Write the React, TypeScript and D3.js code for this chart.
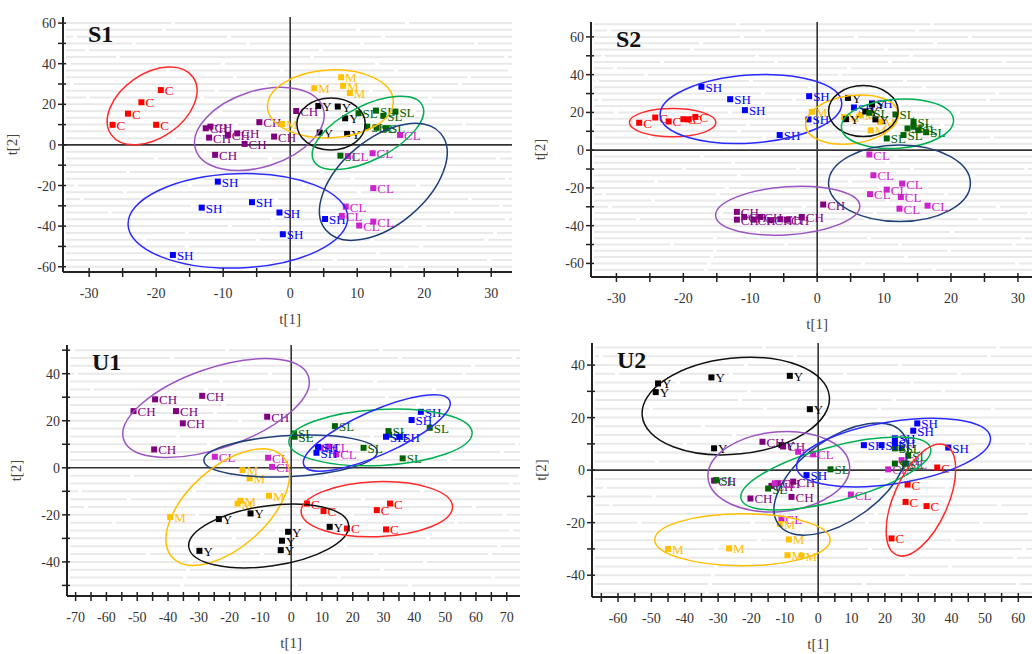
import React from "react";
import * as d3 from "d3";

type Pt = [number, number];
type Ell = { g: string; cx: number; cy: number; a: number; b: number; angle: number };

// Group colours: marker fill and confidence-ellipse stroke
const pointColor: Record<string, string> = {
  C: "#ff0000",
  SH: "#0000ff",
  CH: "#800080",
  CL: "#cc22cc",
  M: "#ffc000",
  Y: "#000000",
  SL: "#006400",
};
const ellipseColor: Record<string, string> = {
  C: "#ff2a2a",
  SH: "#2a2aff",
  CH: "#9b55c0",
  CL: "#1f3f78",
  M: "#ffbf00",
  Y: "#111111",
  SL: "#00b050",
};

// ---- S1 scores ----
const s1C: Pt[] = [[-26.5, 9.9], [-24.2, 15.4], [-22.2, 21], [-19.3, 27], [-20, 9.9]];
const s1CH: Pt[] = [[-12.6, 8.2], [-11.9, 9], [-12.1, 3.6], [-11.2, -4.9], [-9.3, 4.9], [-7.9, 5.7], [-6.8, 0.5], [-4.6, 11.2], [-2.4, 4.1], [0.9, 16.7]];
const s1SH: Pt[] = [[-10.8, -18.1], [-13.2, -30.9], [-17.5, -54.2], [-5.7, -28.2], [-1.6, -33.3], [-1.1, -44], [5.2, -36.5]];
const s1M: Pt[] = [[3.6, 27.9], [7.6, 33.3], [7.9, 29.1], [8.9, 25.6], [-1.2, 10.3]];
const s1Y: Pt[] = [[4.2, 19.2], [7.1, 18.9], [8.2, 13.1], [4.4, 6.1], [8.5, 5.4]];
const s1SL: Pt[] = [[10.2, 15.6], [12.8, 16.9], [13.9, 14.3], [15.7, 16.4], [11.5, 9], [12.9, 8.5], [14.3, 8.2], [7.5, -5.3]];
const s1CL: Pt[] = [[16.4, 4.9], [12.3, -4.1], [12.4, -21.3], [8.3, -30.4], [7.7, -35], [10.3, -39.7], [12.4, -37.8], [8.6, -5.5]];
const s1Ellipses: Ell[] = [
  { g: "C", cx: -20.6, cy: 19.2, a: 7.46, b: 15.8, angle: -35 },
  { g: "CH", cx: -4.6, cy: 7.9, a: 10, b: 18.7, angle: -18 },
  { g: "SH", cx: -7.8, cy: -37.4, a: 16.4, b: 23.2, angle: -2 },
  { g: "M", cx: 6.0, cy: 20.2, a: 9.4, b: 16.7, angle: -3 },
  { g: "Y", cx: 6.1, cy: 10.3, a: 5.1, b: 12.8, angle: 0 },
  { g: "SL", cx: 11.6, cy: 5.9, a: 9.1, b: 13.3, angle: -27 },
  { g: "CL", cx: 13.9, cy: -18.2, a: 11.2, b: 21.2, angle: -40 },
];

// ---- S2 scores ----
const s2C: Pt[] = [[-26.6, 14.5], [-24.2, 17.3], [-22.2, 15.2], [-20, 16.4], [-19.2, 16.3], [-18.2, 17.6]];
const s2SH: Pt[] = [[-17.3, 33.6], [-13, 27], [-10.8, 21.2], [-5.6, 8], [-1.2, 28.6], [-1.3, 16.3], [5.5, 22.6], [8.2, 24.8]];
const s2M: Pt[] = [[-0.8, 20.3], [4, 17.5], [8, 10.5], [9.4, 15], [6.5, 18.5]];
const s2Y: Pt[] = [[4.6, 27.7], [8.2, 24.2], [7.2, 20.5], [4.3, 16.4], [8.7, 16.3]];
const s2SL: Pt[] = [[11.7, 18.9], [7.8, 19.8], [10.4, 6.2], [12.9, 8], [14.4, 15], [14.4, 12.4], [15.1, 10.6], [16.3, 9.5], [13.5, 11.5]];
const s2CL: Pt[] = [[7.8, -2.3], [8.4, -13.3], [7.9, -23.3], [10.4, -20.9], [12.7, -17.7], [12.5, -24.8], [12.3, -31], [16.5, -29.4]];
const s2CH: Pt[] = [[-12, -32.7], [-12, -36.8], [-10.9, -35.4], [-9.5, -36.8], [-8.5, -35.4], [-7, -37.1], [-5.5, -36.6], [-4.5, -36.8], [-2.3, -35.4], [0.9, -28.8]];
const s2Ellipses: Ell[] = [
  { g: "C", cx: -21.6, cy: 14.6, a: 6.46, b: 7.5, angle: 0 },
  { g: "SH", cx: -9.9, cy: 21.8, a: 13.6, b: 18, angle: -4 },
  { g: "M", cx: 5.2, cy: 16.2, a: 7, b: 12.7, angle: -8 },
  { g: "Y", cx: 6.9, cy: 20.7, a: 5.2, b: 13.5, angle: 0 },
  { g: "SL", cx: 12, cy: 14, a: 8.4, b: 13, angle: -4 },
  { g: "CL", cx: 12.3, cy: -17.5, a: 10.6, b: 20.3, angle: 0 },
  { g: "CH", cx: -4.4, cy: -32.1, a: 10.8, b: 12.7, angle: -4 },
];

// ---- U1 scores ----
const u1CH: Pt[] = [[-51.2, 24.1], [-44.2, 29.1], [-37.4, 24.1], [-35.2, 18.9], [-28.9, 30.6], [-44.5, 7.8], [-7.8, 21.7]];
const u1CL: Pt[] = [[-24.8, 4.7], [-7.5, 4.3], [-6.2, 0.4], [9.5, 8.5], [14.6, 5.7], [12, 9]];
const u1SL: Pt[] = [[0.9, 14.6], [1.1, 13.2], [14.2, 17.7], [23.5, 8.5], [31.6, 15.6], [31.8, 14], [45, 17], [36.2, 4]];
const u1SH: Pt[] = [[8.7, 8.9], [8.2, 6.4], [30.8, 13.2], [35.1, 13.2], [39.1, 20.3], [42.1, 23.8]];
const u1M: Pt[] = [[-39.3, -20.9], [-15.8, -1], [-13.5, -4.5], [-17.4, -15.2], [-16.5, -14], [-7.2, -11.9]];
const u1Y: Pt[] = [[-23.5, -21.8], [-29.8, -35.3], [-13.2, -19.4], [-1, -27.2], [-3, -31], [-3.4, -35], [12.5, -25.1]];
const u1C: Pt[] = [[5.1, -15.2], [10.5, -18.4], [18.1, -25.8], [27.8, -18], [32.1, -15.2], [30.8, -26.2]];
const u1Ellipses: Ell[] = [
  { g: "CH", cx: -24.4, cy: 25.4, a: 31.7, b: 17, angle: -19 },
  { g: "CL", cx: -0.2, cy: 5, a: 28.2, b: 8.7, angle: -3 },
  { g: "SL", cx: 29, cy: 12.9, a: 29.8, b: 11.9, angle: -3 },
  { g: "SH", cx: 27.8, cy: 14.8, a: 25.9, b: 9.4, angle: -24 },
  { g: "M", cx: -20.6, cy: -16.7, a: 24.3, b: 17, angle: -42 },
  { g: "Y", cx: -7.3, cy: -29, a: 26.2, b: 12.8, angle: -8 },
  { g: "C", cx: 27.8, cy: -17.6, a: 24.6, b: 11.7, angle: -2 },
];

// ---- U2 scores ----
const u2Y: Pt[] = [[-48, 33], [-48.7, 29.7], [-32, 35.3], [-31.2, 8.3], [-11, 9.5], [-8.5, 35.9], [-2.5, 23.2]];
const u2CH: Pt[] = [[-16.7, 10.8], [-31.2, -4], [-20.3, -10.8], [-14, -6], [-12, -5], [-10.5, 9], [-7.5, -4.4], [-8, -10.2]];
const u2CL: Pt[] = [[-6, 7], [-1.5, 6], [9.8, -9.3], [21, 0.3], [25, 3.8], [26.5, 2.5], [-11, -18.5], [-13, -5]];
const u2SL: Pt[] = [[-30.5, -3.8], [-15, -7], [3.7, 0.3], [23, 8.3], [25, 8.3], [23, 2.5], [26, 2.5], [27, 5.5]];
const u2SH: Pt[] = [[13.7, 9.5], [19, 9.5], [23, 12.1], [23, 10.3], [28.5, 15], [29.7, 17.8], [39, 8.6], [-3.5, -1.9]];
const u2M: Pt[] = [[-45, -30], [-26.7, -29.8], [-11.5, -20.5], [-8.8, -26.4], [-9.2, -32.4], [-5, -32.6]];
const u2C: Pt[] = [[35.7, 1], [26.8, -5.5], [26.2, -12.1], [32.5, -13.7], [22, -26]];
const u2Ellipses: Ell[] = [
  { g: "Y", cx: -24.7, cy: 24.4, a: 28.2, b: 18.3, angle: -6 },
  { g: "CH", cx: -11.8, cy: -0.6, a: 21.3, b: 15.2, angle: -5 },
  { g: "CL", cx: 6.8, cy: -3.4, a: 23.1, b: 15.5, angle: -36 },
  { g: "SL", cx: 5.3, cy: -1.3, a: 29.4, b: 10.3, angle: -15 },
  { g: "SH", cx: 22.6, cy: 6.7, a: 29.4, b: 11.8, angle: -9 },
  { g: "M", cx: -22.7, cy: -26.5, a: 26.3, b: 9.9, angle: 0 },
  { g: "C", cx: 30.8, cy: -11.4, a: 18, b: 10.3, angle: -66 },
];

// Tick labels
const sXTicks = [-30, -20, -10, 0, 10, 20, 30];
const sYTicks = [-60, -40, -20, 0, 20, 40, 60];
const u1XTicks = [-70, -60, -50, -40, -30, -20, -10, 0, 10, 20, 30, 40, 50, 60, 70];
const u2XTicks = [-60, -50, -40, -30, -20, -10, 0, 10, 20, 30, 40, 50, 60];
const uYTicks = [-40, -20, 0, 20, 40];

type PanelCfg = {
  title: string;
  left: number; right: number; top: number; bottom: number;
  xDomain: [number, number]; yDomain: [number, number];
  xTicks: number[]; yTicks: number[];
  stripeStep: number;
  groups: [string, Pt[]][];
  ellipses: Ell[];
};

const panels: PanelCfg[] = [
  {
    title: "S1", left: 63, right: 512, top: 17, bottom: 272,
    xDomain: [-33.9, 33.1], yDomain: [-62.6, 63],
    xTicks: sXTicks, yTicks: sYTicks, stripeStep: 10 / 3,
    groups: [["C", s1C], ["CH", s1CH], ["SH", s1SH], ["M", s1M], ["Y", s1Y], ["SL", s1SL], ["CL", s1CL]],
    ellipses: s1Ellipses,
  },
  {
    title: "S2", left: 591, right: 1040, top: 22, bottom: 277,
    xDomain: [-33.8, 33.3], yDomain: [-67.2, 67.9],
    xTicks: sXTicks, yTicks: sYTicks, stripeStep: 10 / 3,
    groups: [["C", s2C], ["SH", s2SH], ["M", s2M], ["Y", s2Y], ["SL", s2SL], ["CL", s2CL], ["CH", s2CH]],
    ellipses: s2Ellipses,
  },
  {
    title: "U1", left: 67, right: 520, top: 345, bottom: 596,
    xDomain: [-72.8, 74.3], yDomain: [-54.5, 52.2],
    xTicks: u1XTicks, yTicks: uYTicks, stripeStep: 10 / 3,
    groups: [["CH", u1CH], ["CL", u1CL], ["SL", u1SL], ["SH", u1SH], ["M", u1M], ["Y", u1Y], ["C", u1C]],
    ellipses: u1Ellipses,
  },
  {
    title: "U2", left: 592, right: 1040, top: 343, bottom: 597,
    xDomain: [-67.8, 66.5], yDomain: [-48.3, 48.4],
    xTicks: u2XTicks, yTicks: uYTicks, stripeStep: 10 / 3,
    groups: [["Y", u2Y], ["CH", u2CH], ["CL", u2CL], ["SL", u2SL], ["SH", u2SH], ["M", u2M], ["C", u2C]],
    ellipses: u2Ellipses,
  },
];

const serif = "'Liberation Serif', 'Times New Roman', serif";

function ScorePanel({ cfg }: { cfg: PanelCfg }) {
  const x = d3.scaleLinear().domain(cfg.xDomain).range([cfg.left, cfg.right]);
  const y = d3.scaleLinear().domain(cfg.yDomain).range([cfg.bottom, cfg.top]);
  const kx = Math.abs(x(1) - x(0));
  const ky = Math.abs(y(0) - y(1));
  const [x0, x1] = cfg.xDomain;
  const [y0, y1] = cfg.yDomain;

  const stripes = d3.range(Math.ceil(y0 / cfg.stripeStep), Math.floor(y1 / cfg.stripeStep) + 1)
    .map((i) => i * cfg.stripeStep)
    .filter((v) => Math.abs(v) > 0.5 && y(v) < cfg.bottom - 3);
  const xMinor = d3.range(Math.ceil(x0 / 5) * 5, x1, 5);
  const yMinor = d3.range(Math.ceil(y0 / 10) * 10, y1, 10);

  return (
    <g>
      {/* background stripes */}
      <g stroke="#e9e9e9" strokeWidth={2}>
        {stripes.map((v, i) => (
          <line key={i} x1={cfg.left + 3} x2={cfg.right} y1={y(v)} y2={y(v)}
            strokeDasharray={`${110 + (i % 4) * 40} 4`} strokeDashoffset={i * 37} />
        ))}
      </g>
      {/* zero lines */}
      <line x1={cfg.left} x2={cfg.right} y1={y(0)} y2={y(0)} stroke="#333" strokeWidth={1.6} />
      <line x1={x(0)} x2={x(0)} y1={cfg.top} y2={cfg.bottom} stroke="#333" strokeWidth={1.6} />

      {/* group markers and labels */}
      {cfg.groups.map(([g, pts]) => (
        <g key={g}>
          {pts.map((p, i) => (
            <g key={i}>
              <rect x={x(p[0]) - 3} y={y(p[1]) - 3} width={6} height={6} fill={pointColor[g]} />
              <text x={x(p[0]) + 4} y={y(p[1]) + 5} fontSize={13} fontFamily={serif} fill={pointColor[g]}>{g}</text>
            </g>
          ))}
        </g>
      ))}

      {/* confidence ellipses */}
      {cfg.ellipses.map((e) => (
        <ellipse key={e.g} cx={x(e.cx)} cy={y(e.cy)} rx={e.a * kx} ry={e.b * ky}
          transform={`rotate(${e.angle} ${x(e.cx)} ${y(e.cy)})`}
          fill="none" stroke={ellipseColor[e.g]} strokeWidth={1.5} />
      ))}

      {/* axes */}
      <line x1={cfg.left} x2={cfg.left} y1={cfg.top} y2={cfg.bottom} stroke="#222" strokeWidth={2} />
      <line x1={cfg.left} x2={cfg.right} y1={cfg.bottom} y2={cfg.bottom} stroke="#222" strokeWidth={2} />
      {yMinor.map((v) => (
        <line key={"yt" + v} x1={cfg.left - 5} x2={cfg.left + 3} y1={y(v)} y2={y(v)} stroke="#222" strokeWidth={1.5} />
      ))}
      {xMinor.map((v) => (
        <line key={"xt" + v} x1={x(v)} x2={x(v)} y1={cfg.bottom - 4} y2={cfg.bottom + 5} stroke="#222" strokeWidth={1.5} />
      ))}
      {cfg.yTicks.map((v) => (
        <text key={"yl" + v} x={cfg.left - 7} y={y(v) + 5} textAnchor="end" fontSize={14}
          fontFamily={serif} fill="#333">{v}</text>
      ))}
      {cfg.xTicks.map((v) => (
        <text key={"xl" + v} x={x(v)} y={cfg.bottom + 26} textAnchor="middle" fontSize={14}
          fontFamily={serif} fill="#333">{v}</text>
      ))}

      {/* axis titles */}
      <text x={x(0)} y={cfg.bottom + 52} textAnchor="middle" fontSize={15} fontFamily={serif} fill="#444">t[1]</text>
      <text transform={`translate(${cfg.left - 46} ${(cfg.top + cfg.bottom) / 2}) rotate(-90)`}
        textAnchor="middle" fontSize={15} fontFamily={serif} fill="#444">t[2]</text>

      {/* panel title */}
      <text x={cfg.left + 25} y={cfg.top + 25} fontSize={24} fontWeight="bold" fontFamily={serif} fill="#111">{cfg.title}</text>
    </g>
  );
}

export default function App() {
  return (
    <svg width={1032} height={654} viewBox="0 0 1032 654"
      style={{ position: "absolute", left: 0, top: 0, background: "#fff" }}>
      <rect x={0} y={0} width={1032} height={654} fill="#fff" />
      {panels.map((p) => (
        <ScorePanel key={p.title} cfg={p} />
      ))}
    </svg>
  );
}
